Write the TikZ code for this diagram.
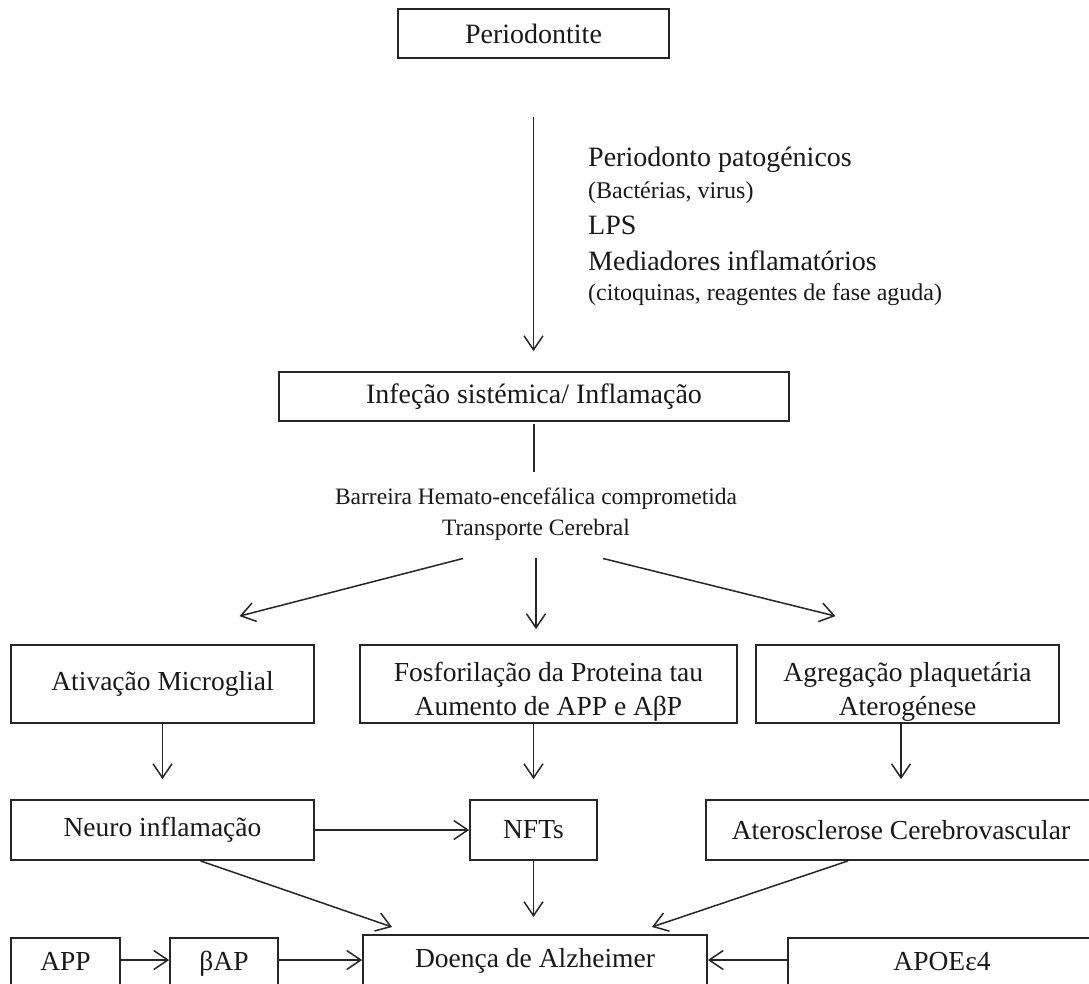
\documentclass[tikz,border=0pt]{standalone}
\usepackage{fontspec}
\setmainfont{Liberation Serif}
\usetikzlibrary{arrows.meta,calc}
\newcommand{\myfs}[1]{\fontsize{#1}{34}\selectfont}
\newcommand{\topstrut}{\rule{0pt}{34pt}}
\begin{document}
\begin{tikzpicture}[x=1pt,y=-1pt,
  box/.style={draw=black!85, line width=1.8pt, inner sep=0pt, align=center, text=black!90, font=\myfs{27.5}},
  lowbox/.style={box, anchor=north, text height=33pt, text depth=40pt},
  note/.style={inner sep=0pt, text=black!90, anchor=base west},
  conn/.style={line width=1.5pt, draw=black!85},
  arr/.style={conn, -{Straight Barb[length=14pt,width=19pt,line width=1.5pt]}},
]
\useasboundingbox (0,0) rectangle (1089,983);
\clip (0,0) rectangle (1089,983);
\fill[white] (0,0) rectangle (1089,983);

% top
\node[box, minimum width=271pt, minimum height=49pt, font=\myfs{28}] (per) at (533.5,33.5) {Periodontite};
\node[box, minimum width=510pt, minimum height=49pt, font=\myfs{28}] (inf) at (534,396.5) {Infeção sistémica/ Inflamação};

\node[note, font=\myfs{28}] (p1) at (588,166) {Periodonto patogénicos};
\node[note, font=\myfs{24}] (p2) at (588,198) {(Bactérias, virus)};
\node[note, font=\myfs{28}] (p3) at (588,234) {LPS};
\node[note, font=\myfs{28}] (p4) at (588,270) {Mediadores inflamatórios};
\node[note, font=\myfs{24}] (p5) at (588,300) {(citoquinas, reagentes de fase aguda)};

\node[inner sep=0pt, align=center, text=black!90, font=\fontsize{23.5}{31}\selectfont] (bhe) at (536,514) {Barreira Hemato-encefálica comprometida\\Transporte Cerebral};

% row 1
\node[box, minimum width=303pt, minimum height=78pt] (mic) at (162.5,684) {Ativação Microglial};
\node[box, minimum width=377pt, minimum height=78pt] (tau) at (548.5,684) {\topstrut Fosforilação da Proteina tau\\Aumento de APP e AβP};
\node[box, minimum width=303pt, minimum height=78pt] (agr) at (907.5,684) {\topstrut Agregação plaquetária\\Aterogénese};

% row 2
\node[box, minimum width=303pt, minimum height=60pt] (neu) at (162.5,830) {Neuro inflamação};
\node[box, minimum width=127pt, minimum height=60pt] (nft) at (533.5,830) {NFTs};
\node[box, minimum width=390pt, minimum height=60pt] (ate) at (901,830) {Aterosclerose Cerebrovascular};

% row 3
\node[lowbox, minimum width=109pt] (app) at (65.5,937) {APP};
\node[lowbox, minimum width=108pt] (bap) at (224,937) {βAP};
\node[lowbox, minimum width=344pt] (doe) at (535,934) {Doença de Alzheimer};
\node[lowbox, minimum width=308pt] (apo) at (942,937) {APOEε4};

% connectors
\draw[arr, shorten <=58pt, shorten >=20pt] (per.south) -- (per.south |- inf.north);
\draw[conn, shorten <=2pt, shorten >=16pt] (inf.south) -- (inf.south |- bhe.north);

\draw[arr] ($(bhe.south)+(-73,18)$) -- ($(mic.north)+(77,-28)$);
\draw[arr] ($(bhe.south)+(0,18)$) -- ($(bhe.south |- tau.north)+(0,-15)$);
\draw[arr] ($(bhe.south)+(67,18)$) -- ($(agr.north)+(-72,-28)$);

\draw[arr, shorten >=20pt] (mic.south) -- (neu.north);
\draw[arr, shorten >=20pt] (tau.south -| nft.north) -- (nft.north);
\draw[arr, shorten >=20pt] (agr.south -| ate.north) -- (ate.north);
\draw[arr] (neu.east) -- (nft.west);

\draw[arr] ($(neu.south)+(38,0)$) -- ($(doe.north west)+(30,-7)$);
\draw[arr, shorten >=17pt] (nft.south) -- (nft.south |- doe.north);
\draw[arr] ($(ate.south)+(-53,0)$) -- ($(doe.north east)+(-56,-7)$);

\draw[arr] ([yshift=-23pt]app.north east) -- ([yshift=-23pt]bap.north west);
\draw[arr] ([yshift=-23pt]bap.north east) -- ([yshift=-26pt]doe.north west);
\draw[arr] ([yshift=-23pt]apo.north west) -- ([yshift=-26pt]doe.north east);
\end{tikzpicture}
\end{document}
